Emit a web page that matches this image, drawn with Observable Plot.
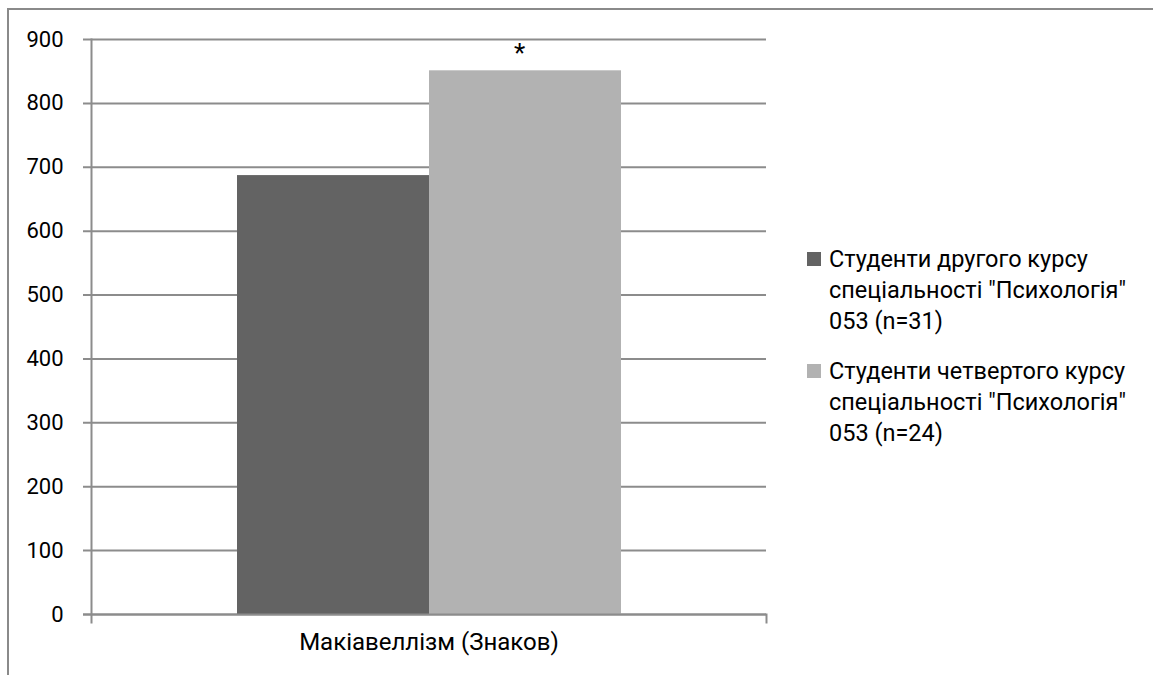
<!DOCTYPE html>
<html>
<head>
<meta charset="utf-8">
<script src="https://cdn.jsdelivr.net/npm/d3@7"></script>
<script src="https://cdn.jsdelivr.net/npm/@observablehq/plot@0.6"></script>
<style>
  html, body { margin: 0; padding: 0; background: #fff; }
  #wrap { position: relative; width: 1153px; height: 675px; overflow: hidden; font-family: Roboto, "Noto Sans", sans-serif; }
  #border { position: absolute; left: 7px; top: 8px; width: 1200px; height: 700px; border-top: 2px solid #8a8a8a; border-left: 2px solid #8a8a8a; }
  #chart { position: absolute; left: 0; top: 0; }
  #legend { position: absolute; left: 807px; top: 244px; font-size: 23.5px; color: #000; line-height: 31px; }
  .item { position: relative; padding-left: 22px; margin-bottom: 19px; }
  .sw { position: absolute; left: 0; top: 8px; width: 14px; height: 14px; }
</style>
</head>
<body>
<div id="wrap">
  <div id="border"></div>
  <div id="chart"></div>
  <div id="legend"></div>
</div>
<script>
const category = "Макіавеллізм (Знаков)";
const series = ["Студенти другого курсу", "Студенти четвертого курсу"];
const legendLines = [
  ["Студенти другого курсу", "спеціальності \"Психологія\"", "053 (n=31)"],
  ["Студенти четвертого курсу", "спеціальності \"Психологія\"", "053 (n=24)"]
];
const values = [687, 851];
const annotations = ["", "*"];
const colors = ["#636363", "#b2b2b2"];
const yTicks = [0, 100, 200, 300, 400, 500, 600, 700, 800, 900];

const data = series.map((s, i) => ({series: s, value: values[i], note: annotations[i]}));

const W = 1153, H = 675;
const mL = 91, mR = 387, mT = 39, mB = 61;
const innerH = H - mT - mB;
const gridColor = "#8c8c8c";

const chart = Plot.plot({
  width: W,
  height: H,
  marginLeft: mL,
  marginRight: mR,
  marginTop: mT,
  marginBottom: mB,
  style: {fontFamily: "Roboto, 'Noto Sans', sans-serif", fontSize: "22px", color: "#000", background: "transparent"},
  x: {domain: series, paddingInner: 0, paddingOuter: 0.749, axis: null},
  y: {domain: [0, 900], axis: null},
  color: {domain: series, range: colors},
  marks: [
    Plot.ruleY(yTicks, {stroke: gridColor, strokeWidth: 2, strokeOpacity: 1, insetLeft: -8}),
    Plot.text(yTicks, {y: d => d, text: d => String(d), frameAnchor: "left", textAnchor: "end", dx: -28, fontSize: 22, fill: "#000"}),
    Plot.barY(data, {x: "series", y: "value", fill: "series"}),
    Plot.frame({anchor: "left", stroke: gridColor, strokeWidth: 2, strokeOpacity: 1, insetBottom: -8}),
    Plot.frame({anchor: "right", stroke: gridColor, strokeWidth: 2, strokeOpacity: 1, insetTop: innerH, insetBottom: -8}),
    Plot.ruleY([0], {stroke: gridColor, strokeWidth: 2, insetLeft: -8}),
    Plot.text(data, {x: "series", y: "value", text: "note", dy: -17, dx: -6, fontSize: 26, fill: "#000"}),
    Plot.text([category], {frameAnchor: "bottom", dy: 35, text: d => d, fontSize: 24, fill: "#000"})
  ]
});
document.getElementById("chart").append(chart);

const legend = document.getElementById("legend");
legendLines.forEach((lines, i) => {
  const item = document.createElement("div");
  item.className = "item";
  const sw = document.createElement("div");
  sw.className = "sw";
  sw.style.background = colors[i];
  item.append(sw);
  lines.forEach(l => { const d = document.createElement("div"); d.textContent = l; item.append(d); });
  legend.append(item);
});
</script>
</body>
</html>
